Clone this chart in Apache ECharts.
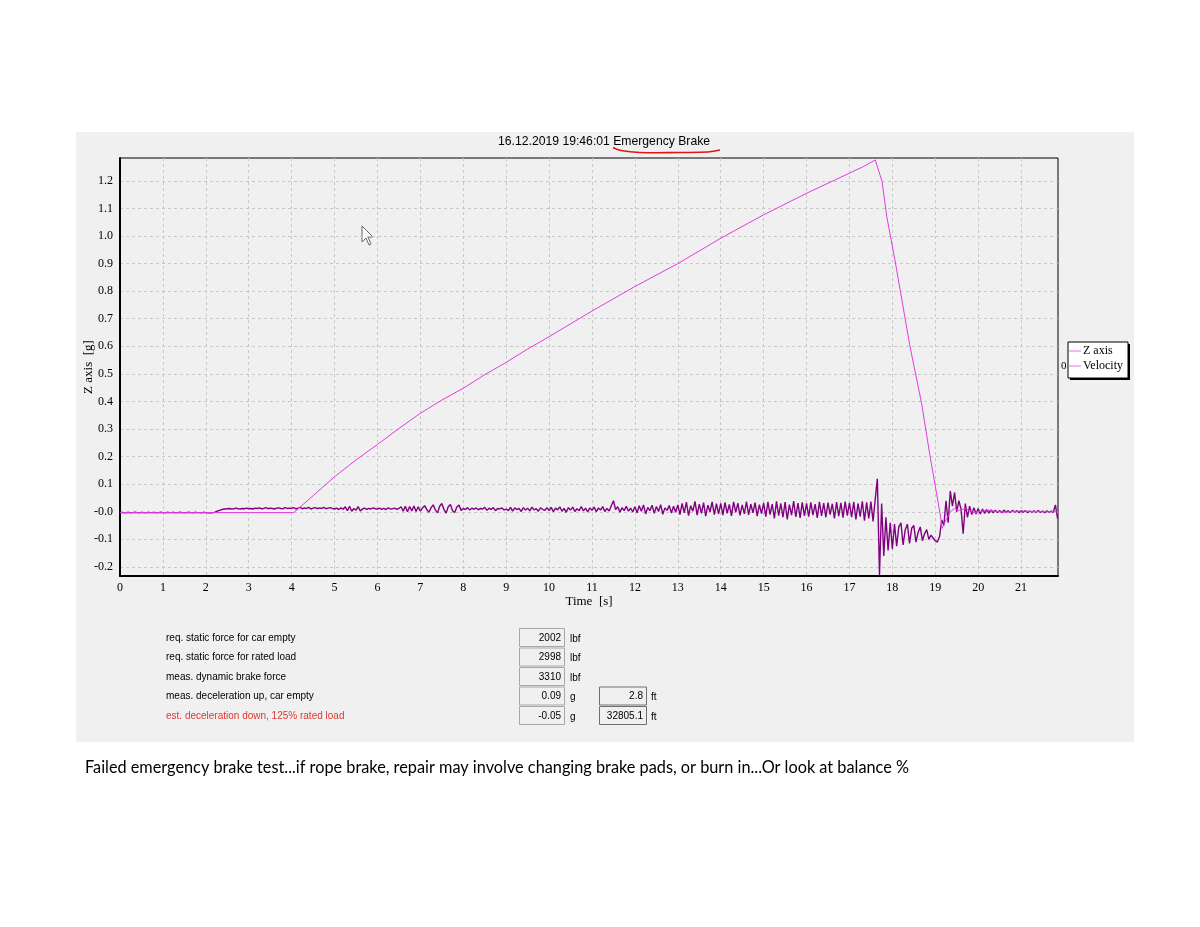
<!DOCTYPE html>
<html>
<head>
<meta charset="utf-8">
<script src="https://cdn.jsdelivr.net/npm/echarts@6/dist/echarts.min.js"></script>
<style>
  html, body { margin: 0; padding: 0; background: #fff; }
  #panel { position: absolute; left: 76px; top: 132px; width: 1058px; height: 610px; background: #f0f0f0; }
  #chart-container { position: absolute; left: 0; top: 0; width: 1200px; height: 927px; }
</style>
</head>
<body>
<div id="panel"></div>
<div id="chart-container"></div>
<script>
// tick labels
var xTicks = [0, 1, 2, 3, 4, 5, 6, 7, 8, 9, 10, 11, 12, 13, 14, 15, 16, 17, 18, 19, 20, 21];
var yTicks = [-0.2, -0.1, 0, 0.1, 0.2, 0.3, 0.4, 0.5, 0.6, 0.7, 0.8, 0.9, 1.0, 1.1, 1.2];

// Z axis acceleration, one sample every 0.05 s starting at 0 s (one row = one second)
var zStart = 0;
var zStep = 0.05;
var zAxis = [
  -0.003,-0.002,-0.004,-0.003,-0.002,-0.004,-0.003,-0.002,-0.003,-0.004,-0.002,-0.003,-0.004,-0.002,-0.003,-0.003,-0.002,-0.004,-0.003,-0.002,
  -0.003,-0.004,-0.002,-0.003,-0.003,-0.002,-0.004,-0.003,-0.002,-0.003,-0.004,-0.003,-0.002,-0.003,-0.004,-0.002,-0.003,-0.003,-0.004,-0.002,
  -0.003,-0.004,-0.003,-0.004,-0.002,0.001,0.004,0.007,0.009,0.010,0.011,0.012,0.010,0.011,0.013,0.011,0.010,0.012,0.011,0.013,
  0.011,0.012,0.010,0.013,0.012,0.014,0.011,0.012,0.015,0.011,0.013,0.012,0.010,0.013,0.014,0.012,0.011,0.015,0.012,0.013,
  0.012,0.015,0.010,0.013,0.016,0.011,0.014,0.012,0.016,0.010,0.013,0.015,0.011,0.014,0.012,0.016,0.011,0.013,0.015,0.012,
  0.010,0.013,0.008,0.014,0.009,0.018,0.004,0.020,0.002,0.012,0.006,0.019,0.003,0.010,0.013,0.009,0.012,0.010,0.014,0.011,
  0.010,0.013,0.009,0.012,0.008,0.014,0.010,0.011,0.013,0.009,0.012,0.018,0.002,0.020,0.000,0.019,0.003,0.021,0.001,0.018,
  0.002,0.014,0.022,0.008,-0.002,0.015,0.025,0.006,-0.004,0.020,0.030,0.008,-0.005,0.018,0.026,0.004,-0.003,0.017,0.024,0.005,
  0.012,0.008,0.015,0.006,0.013,0.009,0.014,0.007,0.012,0.010,0.016,0.005,0.013,0.008,0.015,0.004,0.012,0.010,0.014,0.006,
  0.010,0.004,0.016,0.002,0.014,0.008,0.012,0.001,0.015,0.006,0.013,0.003,0.017,0.007,0.011,0.002,0.014,0.009,0.005,0.015,
  0.004,0.016,0.000,0.013,0.007,0.018,0.002,0.012,-0.002,0.015,0.006,0.017,0.001,0.011,0.004,0.019,0.003,0.013,-0.001,0.014,
  0.005,0.017,0.000,0.014,0.006,0.019,0.001,0.012,0.003,0.022,0.040,0.008,0.018,-0.002,0.015,0.004,0.020,0.002,0.013,-0.001,
  0.018,-0.004,0.022,0.002,0.025,-0.008,0.016,0.004,0.024,-0.006,0.019,0.001,0.026,-0.009,0.014,0.005,0.023,-0.005,0.020,-0.002,
  0.025,-0.010,0.030,-0.004,0.035,-0.014,0.022,0.002,0.038,-0.012,0.028,-0.006,0.033,-0.016,0.024,0.000,0.036,-0.010,0.029,-0.008,
  0.030,-0.012,0.034,-0.006,0.027,-0.015,0.036,-0.002,0.031,-0.013,0.025,-0.008,0.037,-0.011,0.028,-0.004,0.033,-0.016,0.026,-0.007,
  0.032,-0.018,0.036,-0.010,0.028,-0.024,0.038,-0.014,0.030,-0.020,0.035,-0.028,0.026,-0.012,0.039,-0.019,0.031,-0.022,0.034,-0.015,
  0.030,-0.018,0.034,-0.012,0.028,-0.022,0.036,-0.015,0.031,-0.020,0.033,-0.010,0.029,-0.024,0.035,-0.016,0.032,-0.021,0.037,-0.014,
  0.032,-0.020,0.036,-0.028,0.030,-0.018,0.038,-0.032,0.034,-0.024,0.037,-0.035,0.045,0.120,-0.230,0.030,-0.160,-0.020,-0.140,-0.040,
  -0.135,-0.045,-0.125,-0.055,-0.040,-0.120,-0.065,-0.045,-0.115,-0.060,-0.050,-0.110,-0.075,-0.055,-0.105,-0.080,-0.065,-0.100,-0.085,-0.095,
  -0.105,-0.110,-0.090,-0.030,-0.050,0.040,-0.040,0.075,0.020,0.070,0.000,0.040,0.010,-0.080,0.030,-0.020,0.020,-0.010,0.015,-0.008,
  0.012,-0.008,0.010,-0.006,0.008,-0.005,0.007,-0.004,0.006,-0.003,0.005,-0.004,0.006,-0.002,0.004,-0.003,0.005,-0.002,0.004,-0.003,
  0.003,-0.002,0.004,-0.003,0.002,-0.001,0.003,-0.002,0.004,-0.002,0.002,-0.003,0.003,-0.001,0.002,-0.002,0.025,-0.025
];

// Velocity
var velTime = [0, 1, 2, 3, 4.05, 4.5, 5, 5.5, 6, 6.5, 7, 7.5, 8, 8.5, 9, 9.5, 10, 11, 12, 13, 14, 15, 16, 17, 17.3, 17.6,
  17.76, 17.87, 18.06, 18.41, 18.68, 18.88, 19.11, 19.16, 19.25, 19.35, 19.45, 19.55, 19.7, 19.9, 20.2, 20.6, 21, 21.5, 21.85];
var velocity = [-0.003, -0.003, -0.003, -0.003, -0.003, 0.058, 0.127, 0.188, 0.244, 0.302, 0.357, 0.405, 0.448, 0.497, 0.542, 0.590, 0.635, 0.728, 0.817, 0.900, 0.992, 1.077, 1.155, 1.228, 1.250, 1.276,
  1.198, 1.070, 0.913, 0.600, 0.394, 0.200, -0.005, -0.060, -0.030, 0.000, 0.012, 0.005, 0.012, -0.004, 0.006, -0.002, 0.003, 0.000, 0.000];

// result table under the chart
var tableLabels = ['req. static force for car empty', 'req. static force for rated load', 'meas. dynamic brake force',
  'meas. deceleration up, car empty', 'est. deceleration down, 125% rated load'];
var tableValues = ['2002', '2998', '3310', '0.09', '-0.05'];
var tableUnits = ['lbf', 'lbf', 'lbf', 'g', 'g'];
var tableValues2 = ['', '', '', '2.8', '32805.1'];
var tableUnits2 = ['', '', '', 'ft', 'ft'];

var titleText = '16.12.2019 19:46:01 Emergency Brake';
var captionText = 'Failed emergency brake test...if rope brake, repair may involve changing brake pads, or burn in...Or look at balance %';

var zData = zAxis.map(function (v, i) { return [+(zStart + i * zStep).toFixed(2), v]; });
var velData = velTime.map(function (t, i) { return [t, velocity[i]]; });

var serif = '"Liberation Serif", "DejaVu Serif", serif';
var sans = '"Liberation Sans", Arial, sans-serif';

// graphic elements: title, annotation, legend box, table, caption
var graphics = [
  { type: 'text', left: 498, top: 136, style: { text: titleText, font: '12.2px ' + sans, fill: '#000' } },
  { type: 'polyline', shape: { points: [[613, 147.5], [621, 150.5], [640, 152.5], [680, 152.5], [708, 152], [720, 150]], smooth: 0.4 },
    style: { stroke: '#e01515', lineWidth: 1.6, fill: null } },
  { type: 'polygon', shape: { points: [[362, 226], [362, 242], [366, 238], [369, 245], [371, 244], [368, 237], [373, 237]] },
    style: { fill: '#fff', stroke: '#666', lineWidth: 1 } },
  { type: 'rect', shape: { x: 1070, y: 344, width: 60, height: 36 }, style: { fill: '#000' } },
  { type: 'rect', shape: { x: 1068, y: 342, width: 60, height: 36 }, style: { fill: '#fff', stroke: '#000', lineWidth: 1 } },
  { type: 'line', shape: { x1: 1069, y1: 351, x2: 1081, y2: 351 }, style: { stroke: '#e58ae5', lineWidth: 1.2 } },
  { type: 'line', shape: { x1: 1069, y1: 366, x2: 1081, y2: 366 }, style: { stroke: '#e58ae5', lineWidth: 1.2 } },
  { type: 'text', left: 1083, top: 345, style: { text: 'Z axis', font: '12px ' + serif, fill: '#000' } },
  { type: 'text', left: 1083, top: 360, style: { text: 'Velocity', font: '12px ' + serif, fill: '#000' } },
  { type: 'text', left: 1061, top: 361, style: { text: '0', font: '11px ' + serif, fill: '#000' } },
  { type: 'text', left: 85, top: 760, style: { text: captionText, font: '16.3px Lato, ' + sans, fill: '#000' } }
];

var rowY = [638, 657.5, 677, 696.5, 716];
tableLabels.forEach(function (label, i) {
  var y = rowY[i];
  graphics.push({ type: 'text', x: 166, y: y, style: { text: label, font: '10px ' + sans, fill: i === 4 ? '#e03535' : '#000', verticalAlign: 'middle' } });
  graphics.push({ type: 'rect', shape: { x: 519.5, y: y - 9.5, width: 45, height: 18 }, style: { fill: '#f0f0f0', stroke: '#a8a8a8', lineWidth: 1 } });
  graphics.push({ type: 'text', x: 561, y: y, style: { text: tableValues[i], font: '10px ' + sans, fill: '#000', align: 'right', verticalAlign: 'middle' } });
  graphics.push({ type: 'text', x: 570, y: y + 1, style: { text: tableUnits[i], font: '10px ' + sans, fill: '#000', verticalAlign: 'middle' } });
  if (tableValues2[i]) {
    graphics.push({ type: 'rect', shape: { x: 599.5, y: y - 9.5, width: 47, height: 18 }, style: { fill: '#f0f0f0', stroke: '#707070', lineWidth: 1 } });
    graphics.push({ type: 'text', x: 643, y: y, style: { text: tableValues2[i], font: '10px ' + sans, fill: '#000', align: 'right', verticalAlign: 'middle' } });
    graphics.push({ type: 'text', x: 651, y: y + 1, style: { text: tableUnits2[i], font: '10px ' + sans, fill: '#000', verticalAlign: 'middle' } });
  }
});

var dom = document.getElementById('chart-container');
var myChart = echarts.init(dom, null, { renderer: 'canvas' });

var option = {
  backgroundColor: 'transparent',
  animation: false,
  grid: {
    left: 120,
    right: 142,
    top: 158,
    bottom: 351,
    show: true,
    borderColor: '#000',
    borderWidth: 1,
    backgroundColor: 'transparent'
  },
  xAxis: {
    type: 'value',
    min: 0,
    max: 21.86,
    name: 'Time  [s]',
    nameLocation: 'middle',
    nameGap: 17,
    nameTextStyle: { fontFamily: serif, fontSize: 13, color: '#000' },
    axisLine: { onZero: false, lineStyle: { color: '#000', width: 2 } },
    axisTick: { show: false, customValues: xTicks },
    axisLabel: { customValues: xTicks, fontFamily: serif, fontSize: 12, color: '#000', margin: 6 },
    splitLine: { show: true, lineStyle: { color: '#c8c8c8', type: [3, 3], width: 1 } }
  },
  yAxis: {
    type: 'value',
    min: -0.233,
    max: 1.283,
    name: 'Z axis  [g]',
    nameLocation: 'middle',
    nameGap: 25,
    nameMoveOverlap: false,
    nameTextStyle: { fontFamily: serif, fontSize: 13, color: '#000' },
    axisLine: { show: true, onZero: false, lineStyle: { color: '#000', width: 2 } },
    axisTick: { show: false, customValues: yTicks },
    axisLabel: {
      customValues: yTicks,
      fontFamily: serif,
      fontSize: 12,
      color: '#000',
      margin: 7,
      formatter: function (v) { return v === 0 ? '-0.0' : v.toFixed(1); }
    },
    splitLine: { show: true, lineStyle: { color: '#c8c8c8', type: [3, 3], width: 1 } }
  },
  graphic: graphics,
  series: [
    {
      name: 'Z axis',
      type: 'line',
      showSymbol: false,
      symbol: 'none',
      lineStyle: { color: '#800080', width: 1.4 },
      z: 2,
      data: zData
    },
    {
      name: 'Velocity',
      type: 'line',
      showSymbol: false,
      symbol: 'none',
      lineStyle: { color: '#e03ce0', width: 1 },
      z: 3,
      data: velData
    }
  ]
};

myChart.setOption(option);
window.addEventListener('resize', myChart.resize);
</script>
</body>
</html>
